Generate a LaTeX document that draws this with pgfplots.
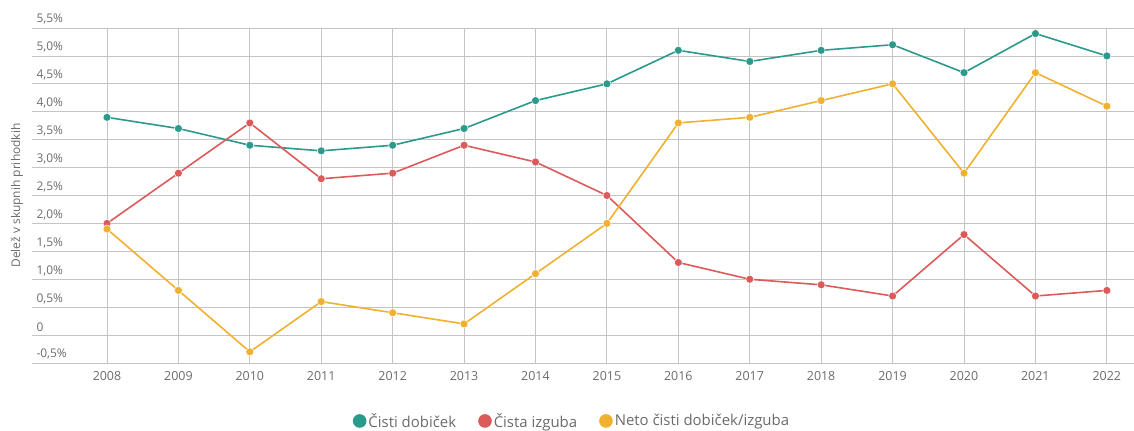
\documentclass[border=0pt]{standalone}
\usepackage{fontspec}
\setmainfont{Open Sans}
\usepackage{pgfplots}
\pgfplotsset{compat=1.18}
\definecolor{cteal}{HTML}{2A9A8C}
\definecolor{cred}{HTML}{DC5A5A}
\definecolor{corange}{HTML}{F0B030}
\definecolor{ctext}{HTML}{6B6B6B}
\definecolor{cgrid}{HTML}{C4C4C4}
\begin{document}
\begin{tikzpicture}
\begin{axis}[
  scale only axis,
  width=1102bp, height=335bp,
  xmin=2006.95, xmax=2022.38,
  ymin=-0.5, ymax=5.5,
  axis line style={draw=none},
  /pgf/number format/assume math mode=true,
  xtick={2008,...,2022},
  ytick={-0.5,0,0.5,1,1.5,2,2.5,3,3.5,4,4.5,5,5.5},
  yticklabels={{-0,5\%},{0},{0,5\%},{1,0\%},{1,5\%},{2,0\%},{2,5\%},{3,0\%},{3,5\%},{4,0\%},{4,5\%},{5,0\%},{5,5\%}},
  xticklabel style={/pgf/number format/set thousands separator={}, font=\fontsize{12.5}{14}\selectfont, text=ctext, yshift=-5bp},
  yticklabel style={anchor=south west, xshift=1bp, yshift=0bp, font=\fontsize{12}{14}\selectfont, text=ctext},
  major tick length=0pt,
  grid=major,
  major grid style={cgrid, line width=0.8bp},
  ylabel={Delež v skupnih prihodkih},
  every axis y label/.style={at={(rel axis cs:0,0.5)}, rotate=90, anchor=center, yshift=15bp, font=\fontsize{12}{14}\selectfont, text=ctext},
  legend style={at={(rel axis cs:0.49,-0.173)}, anchor=center, draw=none, legend columns=-1, font=\fontsize{15}{17}\selectfont, text=ctext, /tikz/every even column/.append style={column sep=20bp}},
  legend image code/.code={\fill[#1] (6bp,0bp) circle[radius=6bp];},
  every axis plot/.append style={line width=1.6bp, mark=*, mark size=4bp, mark options={draw=white, line width=0.5bp}},
]
\addplot[color=cteal] coordinates {(2008,3.9)(2009,3.7)(2010,3.4)(2011,3.3)(2012,3.4)(2013,3.7)(2014,4.2)(2015,4.5)(2016,5.1)(2017,4.9)(2018,5.1)(2019,5.2)(2020,4.7)(2021,5.4)(2022,5.0)};
\addlegendentry{Čisti dobiček}
\addplot[color=cred] coordinates {(2008,2.0)(2009,2.9)(2010,3.8)(2011,2.8)(2012,2.9)(2013,3.4)(2014,3.1)(2015,2.5)(2016,1.3)(2017,1.0)(2018,0.9)(2019,0.7)(2020,1.8)(2021,0.7)(2022,0.8)};
\addlegendentry{Čista izguba}
\addplot[color=corange] coordinates {(2008,1.9)(2009,0.8)(2010,-0.3)(2011,0.6)(2012,0.4)(2013,0.2)(2014,1.1)(2015,2.0)(2016,3.8)(2017,3.9)(2018,4.2)(2019,4.5)(2020,2.9)(2021,4.7)(2022,4.1)};
\addlegendentry{Neto čisti dobiček/izguba}
\coordinate (SW) at (rel axis cs:0,0);
\coordinate (NE) at (rel axis cs:1,1);
\end{axis}
\pgfresetboundingbox
\path ([xshift=-32bp,yshift=-68bp]SW) rectangle ([yshift=28bp]NE);
\end{tikzpicture}
\end{document}
